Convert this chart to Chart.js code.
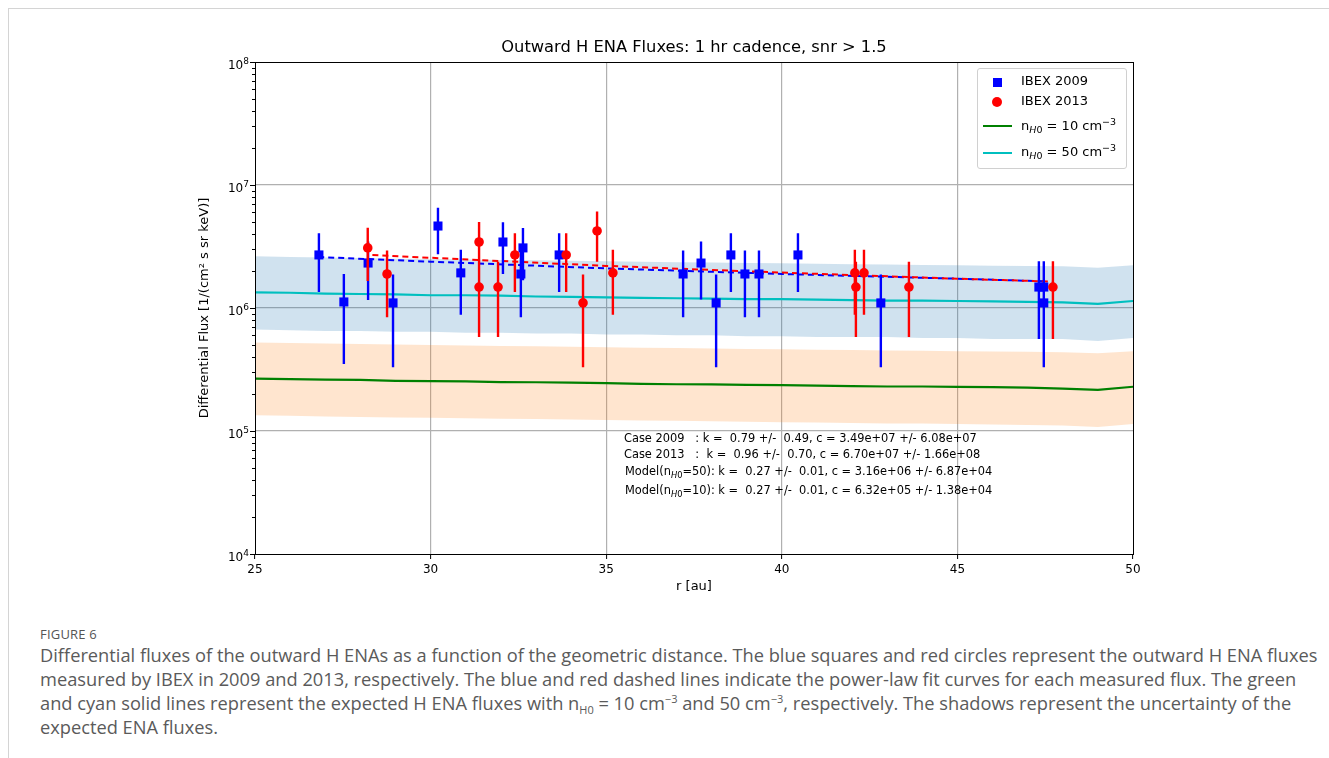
<!DOCTYPE html>
<html>
<head>
<meta charset="utf-8">
<script src="https://cdn.jsdelivr.net/npm/chart.js@4.4.1/dist/chart.umd.min.js"></script>
<style>
  html,body{margin:0;padding:0;background:#fff;}
  body{width:1329px;height:758px;overflow:hidden;position:relative;font-family:"DejaVu Sans",sans-serif;}
  #frame{position:absolute;left:8px;top:8px;width:1320px;height:760px;border-top:1px solid #d4d4d4;border-left:1px solid #d4d4d4;}
  #c{position:absolute;left:0;top:0;}
  .abs{position:absolute;white-space:pre;color:#000;}
  #legend{position:absolute;left:977px;top:68px;width:148px;height:99px;border:1px solid #d0d0d0;border-radius:3px;background:rgba(255,255,255,0.85);}
  .lt{position:absolute;font:13px "DejaVu Sans";line-height:16px;color:#000;white-space:nowrap;}
  .lt sub{font-size:9.5px;vertical-align:-3px;line-height:0;}
  .lt sup{font-size:9.5px;vertical-align:5px;line-height:0;}
  .ann{position:absolute;font:11.4px "DejaVu Sans";line-height:14px;color:#000;white-space:pre;}
  .ann sub{font-size:8.3px;vertical-align:-3px;line-height:0;}
  .yt{position:absolute;font:12px "DejaVu Sans";line-height:16px;color:#000;white-space:nowrap;text-align:right;width:40px;}
  .yt sup{font-size:9px;vertical-align:5px;line-height:0;}
  #figlab{position:absolute;left:40px;top:625px;font:13px "Open Sans";color:#555;letter-spacing:0.2px;}
  #cap{position:absolute;left:40px;top:643px;font:16px "Open Sans";line-height:24px;color:#5a5a5a;white-space:nowrap;}
  #cap sub{font-size:11px;vertical-align:-4px;line-height:0;}
  #cap sup{font-size:11px;vertical-align:7px;line-height:0;}
</style>
</head>
<body>
<div id="frame"></div>
<canvas id="c" width="1329" height="610"></canvas>
<div id="yticks"></div>

<div id="legend"></div>
<div class="abs" style="left:993px;top:78px;width:9px;height:9px;background:#0000ff;"></div>
<div class="lt" style="left:1021px;top:73px;">IBEX 2009</div>
<div class="abs" style="left:992px;top:97px;width:10px;height:10px;border-radius:50%;background:#ff0000;"></div>
<div class="lt" style="left:1021px;top:93px;">IBEX 2013</div>
<div class="abs" style="left:983px;top:125px;width:29px;height:2px;background:#008000;"></div>
<div class="lt" style="left:1021px;top:118px;">n<sub><i>H</i>0</sub> = 10 cm<sup>−3</sup></div>
<div class="abs" style="left:983px;top:152px;width:29px;height:2px;background:#00bfbf;"></div>
<div class="lt" style="left:1021px;top:144px;">n<sub><i>H</i>0</sub> = 50 cm<sup>−3</sup></div>

<div class="ann" style="left:624px;top:431px;">Case 2009   : k =  0.79 +/-  0.49, c = 3.49e+07 +/- 6.08e+07</div>
<div class="ann" style="left:624px;top:447px;">Case 2013   :  k =  0.96 +/-  0.70, c = 6.70e+07 +/- 1.66e+08</div>
<div class="ann" style="left:625px;top:464px;">Model(n<sub><i>H</i>0</sub>=50): k =  0.27 +/-  0.01, c = 3.16e+06 +/- 6.87e+04</div>
<div class="ann" style="left:625px;top:483px;">Model(n<sub><i>H</i>0</sub>=10): k =  0.27 +/-  0.01, c = 6.32e+05 +/- 1.38e+04</div>

<div id="figlab">FIGURE 6</div>
<div id="cap"><span id="l1">Differential fluxes of the outward H ENAs as a function of the geometric distance. The blue squares and red circles represent the outward H ENA fluxes</span><br><span>measured by IBEX in 2009 and 2013, respectively. The blue and red dashed lines indicate the power-law fit curves for each measured flux. The green</span><br><span>and cyan solid lines represent the expected H ENA fluxes with n<sub>H0</sub> = 10 cm<sup>−3</sup> and 50 cm<sup>−3</sup>, respectively. The shadows represent the uncertainty of the</span><br><span>expected ENA fluxes.</span></div>

<script>
// ---------- DATA ----------
const titleText = 'Outward H ENA Fluxes: 1 hr cadence, snr > 1.5';
const xTicks = [25, 30, 35, 40, 45, 50];
const yMajor = [1e4, 1e5, 1e6, 1e7, 1e8];
const yTickBase = '10';
const yTickExp = ['4', '5', '6', '7', '8'];

// IBEX 2009 (blue squares)
const r2009 = [26.82, 27.53, 28.22, 28.93, 30.21, 30.86, 32.06, 32.63, 32.57, 33.66, 37.19, 37.70, 38.13, 38.55, 38.95, 39.35, 40.46, 42.82, 47.32, 47.46, 47.46];
const f2009 = [2.70e6, 1.12e6, 2.32e6, 1.10e6, 4.64e6, 1.93e6, 3.44e6, 3.08e6, 1.89e6, 2.70e6, 1.89e6, 2.32e6, 1.10e6, 2.70e6, 1.89e6, 1.89e6, 2.70e6, 1.10e6, 1.48e6, 1.48e6, 1.10e6];
const e2009 = [1.35e6, 0.77e6, 1.16e6, 0.77e6, 1.90e6, 1.05e6, 1.55e6, 1.40e6, 1.05e6, 1.35e6, 1.05e6, 1.15e6, 0.77e6, 1.35e6, 1.05e6, 1.05e6, 1.35e6, 0.77e6, 0.92e6, 0.92e6, 0.77e6];

// IBEX 2013 (red circles)
const r2013 = [28.21, 28.76, 31.38, 31.38, 31.92, 32.40, 33.86, 34.34, 34.74, 35.19, 42.08, 42.11, 42.34, 43.62, 47.72];
const f2013 = [3.08e6, 1.89e6, 3.44e6, 1.48e6, 1.48e6, 2.70e6, 2.70e6, 1.10e6, 4.23e6, 1.93e6, 1.93e6, 1.48e6, 1.93e6, 1.48e6, 1.48e6];
const e2013 = [1.42e6, 1.05e6, 1.56e6, 0.90e6, 0.90e6, 1.35e6, 1.35e6, 0.77e6, 1.85e6, 1.05e6, 1.05e6, 0.90e6, 1.05e6, 0.90e6, 0.92e6];

// Power-law fit curves (dashed)
const fitR2009 = [26.8, 30, 35, 40, 45, 47.5];
const fitF2009 = [2.60e6, 2.38e6, 2.10e6, 1.89e6, 1.73e6, 1.65e6];
const fitR2013 = [28.2, 30, 35, 40, 45, 47.7];
const fitF2013 = [2.71e6, 2.56e6, 2.20e6, 1.94e6, 1.73e6, 1.64e6];

// Model curves and their uncertainty bands
const modelR = [25, 26, 27, 28, 29, 30, 31, 32, 33, 34, 35, 36, 37, 38, 39, 40, 41, 42, 43, 44, 45, 46, 47, 48, 49, 50];
const model50 = [1.34e6, 1.33e6, 1.31e6, 1.30e6, 1.29e6, 1.27e6, 1.27e6, 1.26e6, 1.24e6, 1.23e6, 1.22e6, 1.21e6, 1.20e6, 1.19e6, 1.18e6, 1.18e6, 1.17e6, 1.16e6, 1.15e6, 1.15e6, 1.14e6, 1.13e6, 1.12e6, 1.11e6, 1.08e6, 1.14e6];
const model50Hi = [2.63e6, 2.60e6, 2.57e6, 2.55e6, 2.52e6, 2.50e6, 2.48e6, 2.46e6, 2.44e6, 2.42e6, 2.40e6, 2.38e6, 2.36e6, 2.34e6, 2.32e6, 2.31e6, 2.29e6, 2.27e6, 2.26e6, 2.24e6, 2.23e6, 2.21e6, 2.20e6, 2.18e6, 2.12e6, 2.23e6];
const model50Lo = [6.7e5, 6.6e5, 6.5e5, 6.5e5, 6.4e5, 6.4e5, 6.3e5, 6.3e5, 6.2e5, 6.2e5, 6.1e5, 6.1e5, 6.0e5, 6.0e5, 5.9e5, 5.9e5, 5.8e5, 5.8e5, 5.8e5, 5.7e5, 5.7e5, 5.6e5, 5.6e5, 5.6e5, 5.4e5, 5.7e5];
const model10 = [2.67e5, 2.64e5, 2.62e5, 2.60e5, 2.56e5, 2.54e5, 2.53e5, 2.50e5, 2.49e5, 2.47e5, 2.45e5, 2.42e5, 2.40e5, 2.39e5, 2.37e5, 2.36e5, 2.34e5, 2.32e5, 2.30e5, 2.30e5, 2.28e5, 2.27e5, 2.25e5, 2.21e5, 2.16e5, 2.29e5];
const model10Hi = [5.25e5, 5.20e5, 5.15e5, 5.10e5, 5.05e5, 5.00e5, 4.95e5, 4.92e5, 4.88e5, 4.84e5, 4.80e5, 4.76e5, 4.72e5, 4.69e5, 4.65e5, 4.62e5, 4.58e5, 4.55e5, 4.52e5, 4.49e5, 4.46e5, 4.43e5, 4.40e5, 4.36e5, 4.28e5, 4.46e5];
const model10Lo = [1.34e5, 1.33e5, 1.31e5, 1.30e5, 1.29e5, 1.28e5, 1.27e5, 1.26e5, 1.25e5, 1.24e5, 1.23e5, 1.22e5, 1.21e5, 1.20e5, 1.19e5, 1.18e5, 1.17e5, 1.16e5, 1.15e5, 1.15e5, 1.14e5, 1.13e5, 1.12e5, 1.11e5, 1.08e5, 1.14e5];

// ---------- helpers ----------
const pts = (xs, ys) => xs.map((x, i) => ({x: x, y: ys[i]}));

const errorBars = {
  id: 'errorBars',
  beforeDatasetDraw(chart, args) {
    const ds = chart.data.datasets[args.index];
    if (!ds.yErr) return;
    const {ctx, chartArea: a, scales: {x, y}} = chart;
    ctx.save();
    ctx.beginPath(); ctx.rect(a.left, a.top, a.right - a.left, a.bottom - a.top); ctx.clip();
    ctx.strokeStyle = ds.errColor; ctx.lineWidth = 2.4; ctx.lineCap = 'butt';
    ctx.beginPath();
    ds.data.forEach((p, i) => {
      const e = ds.yErr[i];
      const px = x.getPixelForValue(p.x);
      ctx.moveTo(px, y.getPixelForValue(p.y + e));
      ctx.lineTo(px, y.getPixelForValue(Math.max(p.y - e, 1e3)));
    });
    ctx.stroke();
    ctx.restore();
  }
};

const frameAndTicks = {
  id: 'frameAndTicks',
  afterDraw(chart) {
    const {ctx, chartArea: a, scales: {y}} = chart;
    ctx.save();
    ctx.strokeStyle = '#000'; ctx.lineWidth = 1;
    ctx.strokeRect(Math.round(a.left) + 0.5, Math.round(a.top) + 0.5, Math.round(a.right - a.left), Math.round(a.bottom - a.top));
    ctx.beginPath();
    y.ticks.forEach(t => {
      const py = Math.round(y.getPixelForValue(t.value)) + 0.5;
      const major = yMajor.indexOf(t.value) >= 0;
      const len = major ? 5 : 3;
      ctx.moveTo(a.left - len, py); ctx.lineTo(a.left, py);
    });
    ctx.stroke();
    ctx.restore();
  }
};

// y tick labels as HTML text with superscript exponents, placed with the chart's y scale
const yTickLabels = {
  id: 'yTickLabels',
  afterRender(chart) {
    const box = document.getElementById('yticks');
    if (box.childNodes.length) return;
    const y = chart.scales.y, a = chart.chartArea;
    yMajor.forEach((v, i) => {
      const d = document.createElement('div');
      d.className = 'yt';
      d.innerHTML = yTickBase + '<sup>' + yTickExp[i] + '</sup>';
      d.style.left = (a.left - 6 - 40) + 'px';
      d.style.top = (y.getPixelForValue(v) - 8 + 3) + 'px';
      box.appendChild(d);
    });
  }
};

const datasets = [
  {label: 'band50hi', data: pts(modelR, model50Hi), borderWidth: 0, pointRadius: 0, fill: '+1', backgroundColor: 'rgba(31,119,180,0.21)', order: 20},
  {label: 'band50lo', data: pts(modelR, model50Lo), borderWidth: 0, pointRadius: 0, fill: false, order: 20},
  {label: 'band10hi', data: pts(modelR, model10Hi), borderWidth: 0, pointRadius: 0, fill: '+1', backgroundColor: 'rgba(255,127,14,0.2)', order: 19},
  {label: 'band10lo', data: pts(modelR, model10Lo), borderWidth: 0, pointRadius: 0, fill: false, order: 19},
  {label: 'n10', data: pts(modelR, model10), borderColor: '#008000', borderWidth: 2.2, pointRadius: 0, fill: false, order: 10},
  {label: 'n50', data: pts(modelR, model50), borderColor: '#00bfbf', borderWidth: 2.2, pointRadius: 0, fill: false, order: 9},
  {label: 'fit2009', data: pts(fitR2009, fitF2009), borderColor: '#0000ff', borderWidth: 2, borderDash: [6, 4], pointRadius: 0, fill: false, tension: 0, order: 6},
  {label: 'fit2013', data: pts(fitR2013, fitF2013), borderColor: '#ff0000', borderWidth: 2, borderDash: [6, 4], borderDashOffset: 5, pointRadius: 0, fill: false, tension: 0, order: 5},
  {label: 'IBEX 2009', data: pts(r2009, f2009), yErr: e2009, errColor: '#0000ff', showLine: false, pointStyle: 'rect', pointRadius: 6.4, pointBackgroundColor: '#0000ff', pointBorderColor: '#0000ff', pointBorderWidth: 0, order: 2},
  {label: 'IBEX 2013', data: pts(r2013, f2013), yErr: e2013, errColor: '#ff0000', showLine: false, pointStyle: 'circle', pointRadius: 4.8, pointBackgroundColor: '#ff0000', pointBorderColor: '#ff0000', pointBorderWidth: 0, order: 1}
];

Chart.defaults.color = '#000';
Chart.defaults.font.family = '"DejaVu Sans"';

new Chart(document.getElementById('c').getContext('2d'), {
  type: 'line',
  data: {datasets: datasets},
  options: {
    responsive: false, animation: false, events: [],
    layout: {padding: {left: 190, right: 196, top: 0, bottom: 11}},
    plugins: {
      legend: {display: false},
      tooltip: {enabled: false},
      title: {display: true, fullSize: false, text: titleText, color: '#000', font: {family: '"DejaVu Sans"', size: 16.3, weight: 'normal'}, padding: {top: 38, bottom: 4.44}}
    },
    scales: {
      x: {
        type: 'linear', min: 25, max: 50,
        afterBuildTicks: s => { s.ticks = xTicks.map(v => ({value: v})); },
        afterFit: s => { s.height = 45; },
        border: {display: false},
        grid: {
          color: c => (c.tick && (c.tick.value === 25 || c.tick.value === 50)) ? 'rgba(0,0,0,0)' : '#b0b0b0',
          lineWidth: 1.2, drawTicks: true, tickLength: 5, tickColor: '#000', tickWidth: 1
        },
        ticks: {font: {size: 12}, color: '#000', padding: 4, maxRotation: 0, autoSkip: false},
        title: {display: true, text: 'r [au]', color: '#000', font: {size: 13}, padding: {top: 0, bottom: 4.2}}
      },
      y: {
        type: 'logarithmic', min: 1e4, max: 1e8,
        afterBuildTicks: s => {
          const t = [];
          for (let k = 0; k < yMajor.length - 1; k++) {
            t.push({value: yMajor[k]});
            for (let m = 2; m <= 9; m++) t.push({value: m * yMajor[k]});
          }
          t.push({value: yMajor[yMajor.length - 1]});
          s.ticks = t;
        },
        afterFit: s => { s.width = 65; },
        border: {display: false},
        grid: {
          color: c => (c.tick && yMajor.indexOf(c.tick.value) > 0 && yMajor.indexOf(c.tick.value) < yMajor.length - 1) ? '#b0b0b0' : 'rgba(0,0,0,0)',
          lineWidth: 1.2, drawTicks: false
        },
        ticks: {font: {size: 12}, color: '#000', padding: 7, autoSkip: false, callback: () => ''},
        title: {display: true, text: 'Differential Flux [1/(cm² s sr keV)]', color: '#000', font: {size: 13}, padding: {top: 7.2, bottom: 0}}
      }
    }
  },
  plugins: [errorBars, frameAndTicks, yTickLabels]
});

// fit caption width to the reference line width
(function () {
  const l1 = document.getElementById('l1');
  const cap = document.getElementById('cap');
  const w = l1.getBoundingClientRect().width;
  const fs = 16 * 1278 / w;
  cap.style.fontSize = fs.toFixed(2) + 'px';
})();
</script>
</body>
</html>
